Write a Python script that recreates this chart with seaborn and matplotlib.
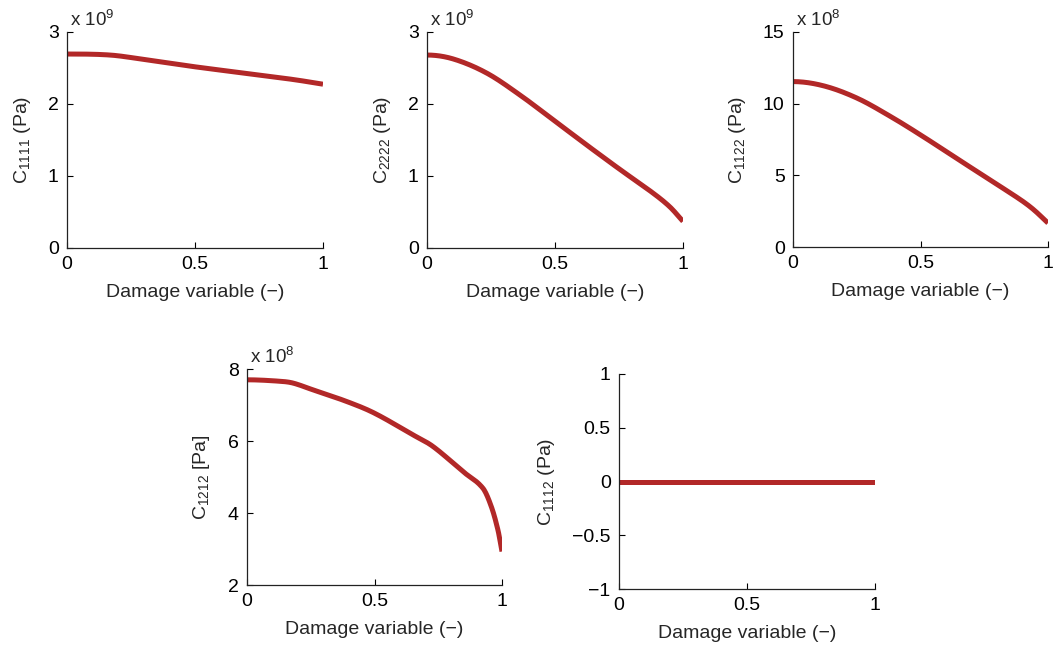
import numpy as np
import pandas as pd
import matplotlib
matplotlib.use("Agg")
import matplotlib.pyplot as plt
import seaborn as sns

# ---- data ----
d_1111 = [0.0, 0.168, 0.298, 0.493, 0.689, 0.884, 1.0]
c_1111 = [2.694, 2.68, 2.62, 2.52, 2.43, 2.34, 2.275]          # x 1e9

d_2222 = [0.0, 0.103, 0.233, 0.363, 0.493, 0.624, 0.754, 0.884, 0.949, 1.0]
c_2222 = [2.68, 2.625, 2.43, 2.125, 1.78, 1.43, 1.09, 0.76, 0.57, 0.37]  # x 1e9

d_1122 = [0.0, 0.121, 0.252, 0.383, 0.5, 0.63, 0.761, 0.892, 0.944, 1.0]
c_1122 = [11.54, 11.24, 10.38, 9.10, 7.82, 6.32, 4.81, 3.30, 2.60, 1.67]  # x 1e8

d_1212 = [0.0, 0.128, 0.18, 0.259, 0.39, 0.498, 0.651, 0.729, 0.847, 0.925, 0.958, 0.984, 1.0]
c_1212 = [7.70, 7.66, 7.61, 7.42, 7.10, 6.78, 6.17, 5.85, 5.15, 4.69, 4.18, 3.53, 2.93]  # x 1e8

d_1112 = [0.0, 1.0]
c_1112 = [0.0, 0.0]

xlabel = "Damage variable (\u2212)"
x_ticks = [0, 0.5, 1]
x_ticklabels = ["0", "0.5", "1"]

sns.set_theme(style="white")
plt.rcParams["font.family"] = ["Liberation Sans", "DejaVu Sans"]
plt.rcParams["mathtext.fontset"] = "custom"
plt.rcParams["mathtext.rm"] = "Liberation Sans"
plt.rcParams["mathtext.it"] = "Liberation Sans"
plt.rcParams["axes.unicode_minus"] = True

W, H = 1054, 649
fig = plt.figure(figsize=(W / 100, H / 100), dpi=100)

LINE_COLOR = "#B22828"
FS = 14


def px_axes(x0, x1, ytop, ybot):
    return fig.add_axes([x0 / W, (H - ybot) / H, (x1 - x0) / W, (ybot - ytop) / H])


def smooth(xk, yk, xs):
    """Cubic Hermite curve through the read-off points (centred-difference slopes)."""
    xk = np.asarray(xk, float)
    yk = np.asarray(yk, float)
    h = np.diff(xk)
    delta = np.diff(yk) / h
    m = np.zeros_like(yk)
    m[0] = 0.0
    m[-1] = delta[-1]
    for i in range(1, len(xk) - 1):
        m[i] = (yk[i + 1] - yk[i - 1]) / (xk[i + 1] - xk[i - 1])
    idx = np.clip(np.searchsorted(xk, xs) - 1, 0, len(xk) - 2)
    t = (xs - xk[idx]) / h[idx]
    h00 = 2 * t**3 - 3 * t**2 + 1
    h10 = t**3 - 2 * t**2 + t
    h01 = -2 * t**3 + 3 * t**2
    h11 = t**3 - t**2
    return h00 * yk[idx] + h10 * h[idx] * m[idx] + h01 * yk[idx + 1] + h11 * h[idx] * m[idx + 1]


panels = [
    dict(box=(67, 323, 32, 248), x=d_1111, y=c_1111, ylim=(0, 3), yticks=[0, 1, 2, 3],
         yticklabels=["0", "1", "2", "3"], ylabel=r"C$_{\mathregular{1111}}$ (Pa)", exp="9"),
    dict(box=(427, 683, 32, 248), x=d_2222, y=c_2222, ylim=(0, 3), yticks=[0, 1, 2, 3],
         yticklabels=["0", "1", "2", "3"], ylabel=r"C$_{\mathregular{2222}}$ (Pa)", exp="9"),
    dict(box=(793, 1048, 32, 247), x=d_1122, y=c_1122, ylim=(0, 15), yticks=[0, 5, 10, 15],
         yticklabels=["0", "5", "10", "15"], ylabel=r"C$_{\mathregular{1122}}$ (Pa)", exp="8"),
    dict(box=(247, 502, 369, 585), x=d_1212, y=c_1212, ylim=(2, 8), yticks=[2, 4, 6, 8],
         yticklabels=["2", "4", "6", "8"], ylabel=r"C$_{\mathregular{1212}}$ [Pa]", exp="8"),
    dict(box=(619, 875, 374, 589), x=d_1112, y=c_1112, ylim=(-1, 1),
         yticks=[-1, -0.5, 0, 0.5, 1],
         yticklabels=["\u22121", "\u22120.5", "0", "0.5", "1"],
         ylabel=r"C$_{\mathregular{1112}}$ (Pa)", exp=None),
]

for p in panels:
    ax = px_axes(*p["box"])
    if len(p["x"]) > 2:
        xs = np.linspace(0, 1, 300)
        df = pd.DataFrame({"d": xs, "c": smooth(p["x"], p["y"], xs)})
    else:
        df = pd.DataFrame({"d": p["x"], "c": p["y"]})
    sns.lineplot(data=df, x="d", y="c", ax=ax, color=LINE_COLOR, linewidth=3.6,
                 solid_capstyle="butt", sort=False)
    ax.set_xlim(0, 1)
    ax.set_ylim(*p["ylim"])
    ax.set_xticks(x_ticks)
    ax.set_xticklabels(x_ticklabels)
    ax.set_yticks(p["yticks"])
    ax.set_yticklabels(p["yticklabels"])
    ax.set_xlabel(xlabel, fontsize=FS, labelpad=8)
    ax.set_ylabel(p["ylabel"], fontsize=FS, labelpad=11)
    ax.tick_params(direction="in", length=4, width=0.8, colors="black",
                   labelsize=FS, pad=6, bottom=True, left=True)
    for s in ["top", "right"]:
        ax.spines[s].set_visible(False)
    for s in ["left", "bottom"]:
        ax.spines[s].set_color("#222222")
        ax.spines[s].set_linewidth(0.9)
    ax.set_facecolor("white")
    if p["exp"]:
        ax.text(0.012, 1.01, r"x 10$^{\mathregular{%s}}$" % p["exp"], transform=ax.transAxes,
                ha="left", va="bottom", fontsize=13.5)

fig.savefig("out.png", dpi=100, facecolor="white")
